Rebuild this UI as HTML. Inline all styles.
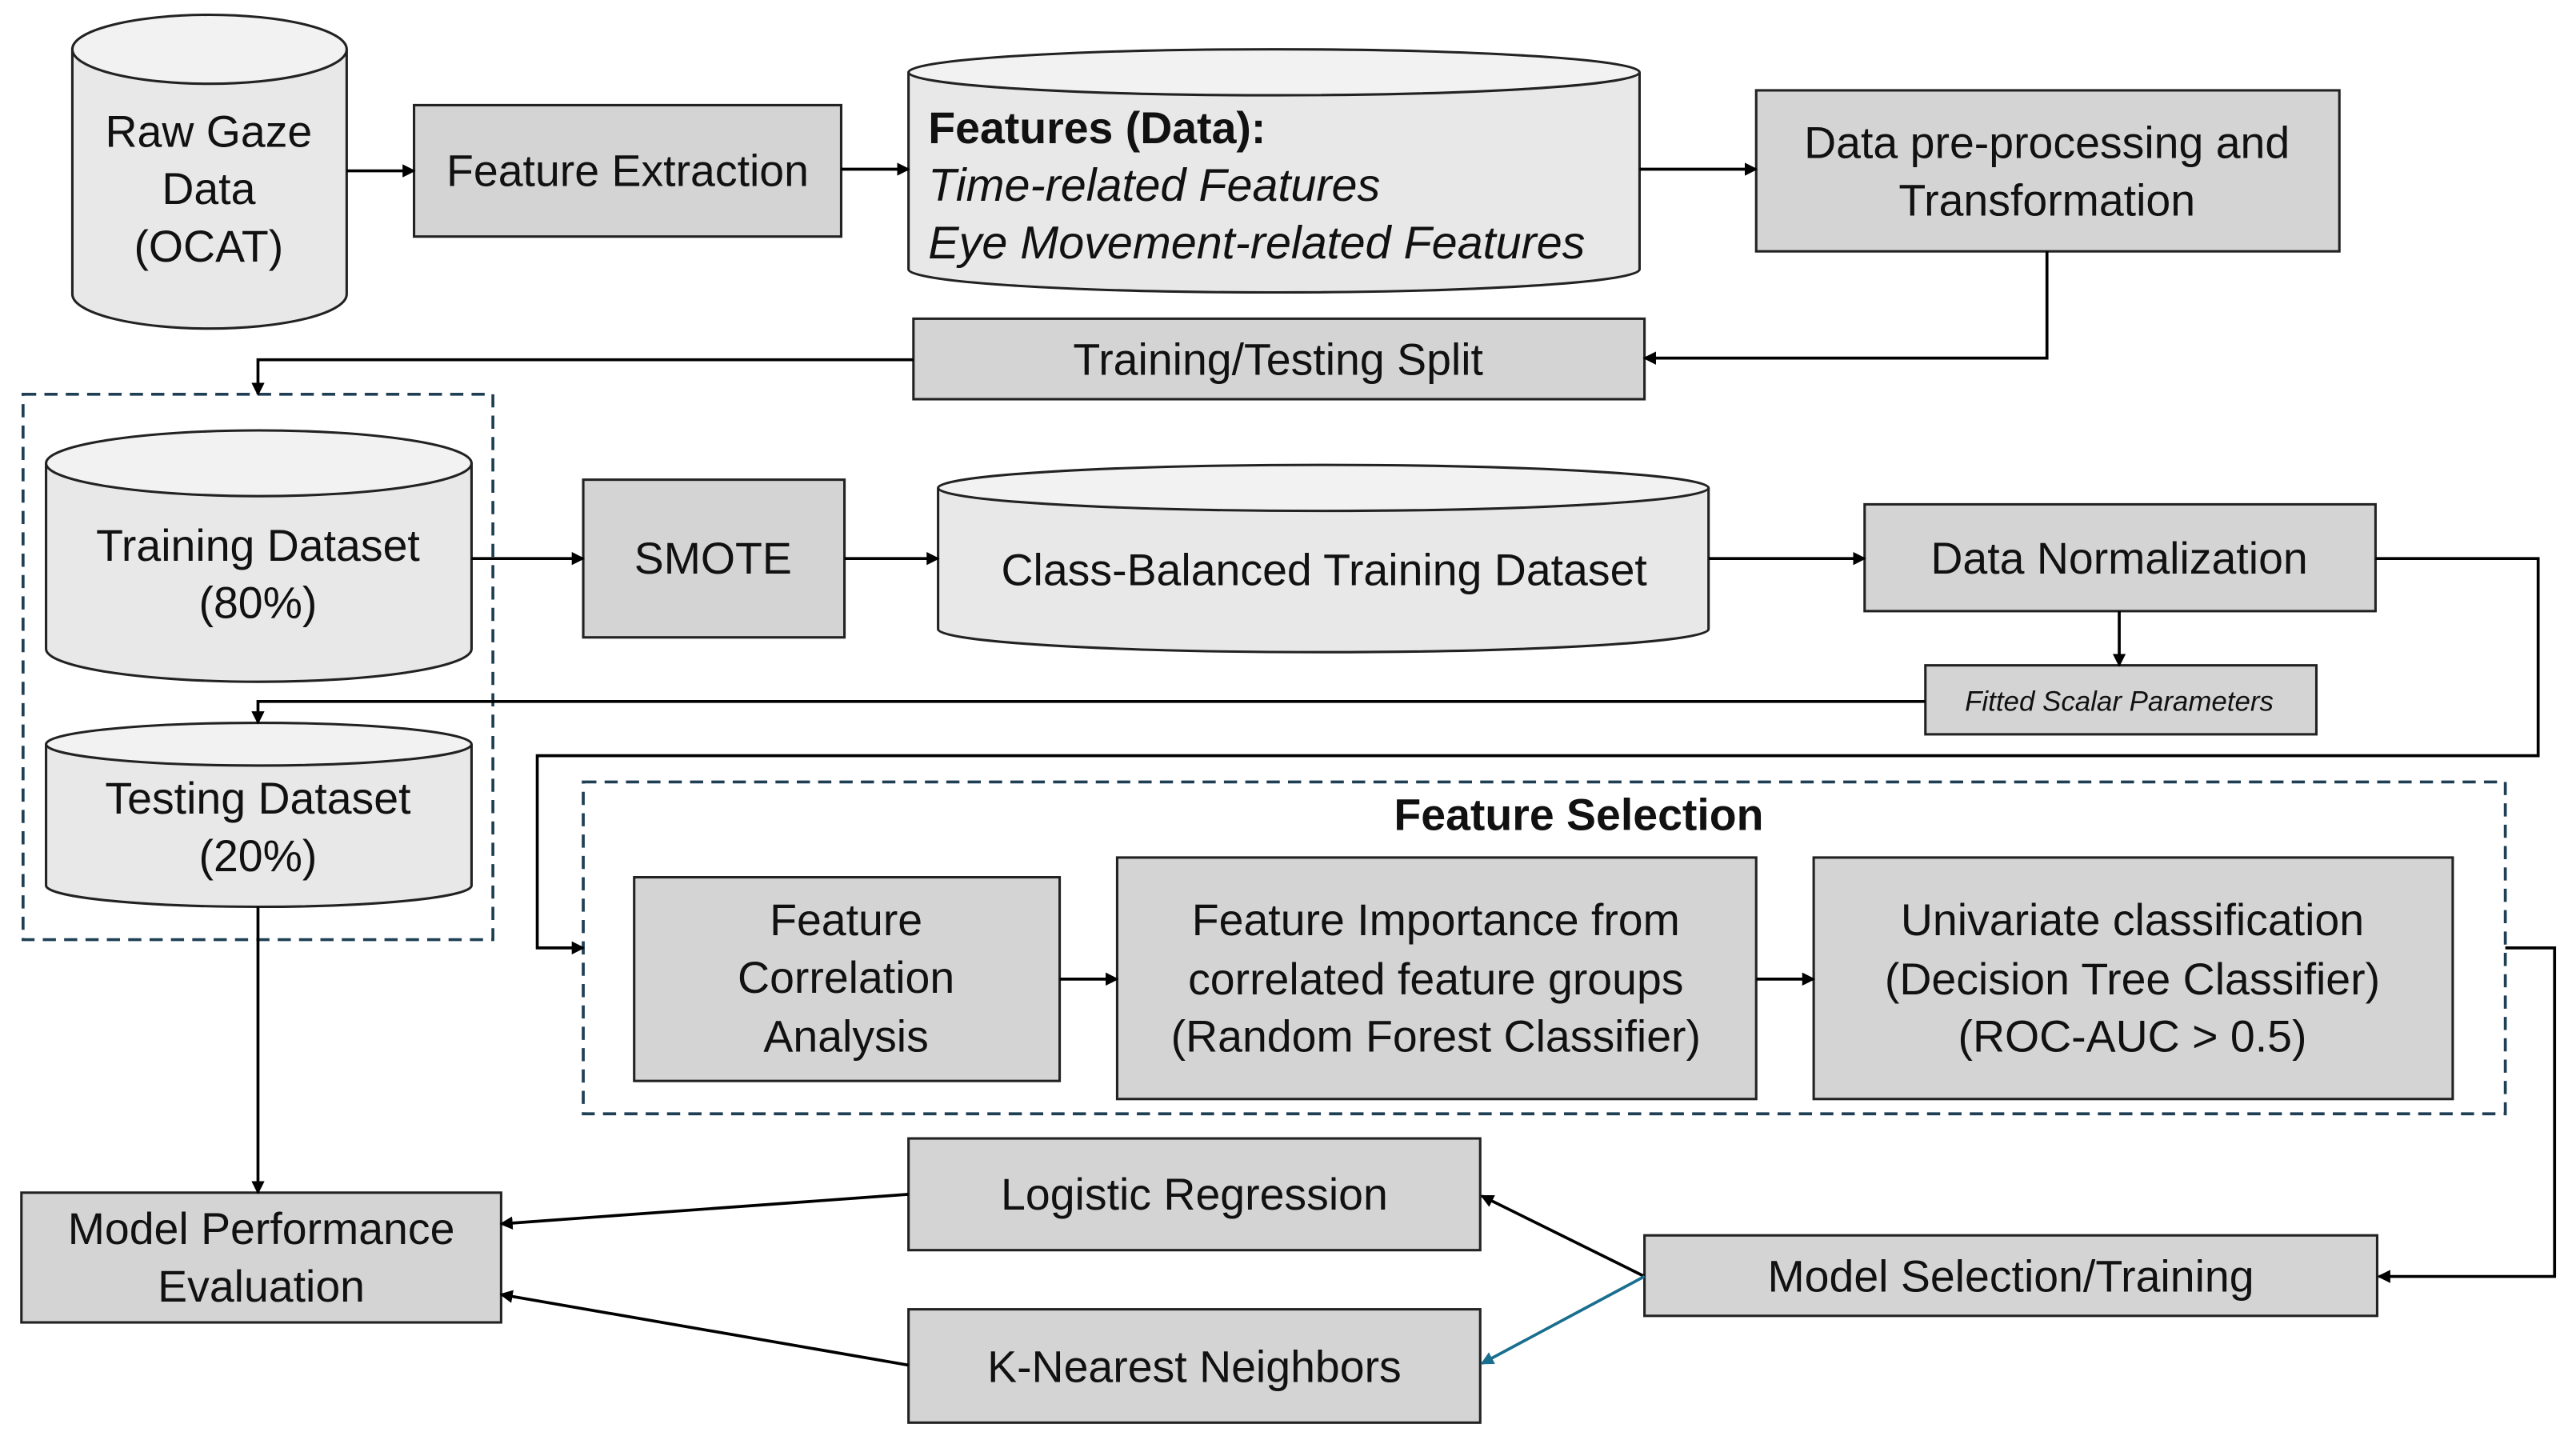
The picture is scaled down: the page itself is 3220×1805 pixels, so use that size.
<!DOCTYPE html>
<html><head><meta charset="utf-8"><style>html,body{margin:0;padding:0;background:#fff}svg{display:block}</style></head>
<body>
<svg width="3220" height="1805" viewBox="0 0 1568 879" xmlns="http://www.w3.org/2000/svg" font-family="Liberation Sans, sans-serif">
<defs>
<marker id="a" markerWidth="8" markerHeight="8" refX="7" refY="4" orient="auto" markerUnits="userSpaceOnUse"><path d="M0,0 L8,4 L0,8 z" fill="#000"/></marker>
<marker id="b" markerWidth="8" markerHeight="8" refX="7" refY="4" orient="auto" markerUnits="userSpaceOnUse"><path d="M0,0 L8,4 L0,8 z" fill="#1a6e8e"/></marker>
</defs>
<g stroke="#222" stroke-width="1.5">
<path d="M44,30 V179 A83.5,21 0 0 0 211,179 V30" fill="#e8e8e8"/>
<ellipse cx="127.5" cy="30" rx="83.5" ry="21" fill="#f2f2f2"/>
<path d="M553,44 V164 A222.5,14 0 0 0 998,164 V44" fill="#e8e8e8"/>
<ellipse cx="775.5" cy="44" rx="222.5" ry="14" fill="#f2f2f2"/>
<path d="M28,282 V395 A129.5,20 0 0 0 287,395 V282" fill="#e8e8e8"/>
<ellipse cx="157.5" cy="282" rx="129.5" ry="20" fill="#f2f2f2"/>
<path d="M571,297 V383 A234.5,14 0 0 0 1040,383 V297" fill="#e8e8e8"/>
<ellipse cx="805.5" cy="297" rx="234.5" ry="14" fill="#f2f2f2"/>
<path d="M28,453 V539 A129.5,13 0 0 0 287,539 V453" fill="#e8e8e8"/>
<ellipse cx="157.5" cy="453" rx="129.5" ry="13" fill="#f2f2f2"/>
<g fill="#d4d4d4">
<rect x="252" y="64" width="260" height="80"/>
<rect x="1069" y="55" width="355" height="98"/>
<rect x="556" y="194" width="445" height="49"/>
<rect x="355" y="292" width="159" height="96"/>
<rect x="1135" y="307" width="311" height="65"/>
<rect x="1172" y="405" width="238" height="42"/>
<rect x="386" y="534" width="259" height="124"/>
<rect x="680" y="522" width="389" height="147"/>
<rect x="1104" y="522" width="389" height="147"/>
<rect x="1001" y="752" width="446" height="49"/>
<rect x="553" y="693" width="348" height="68"/>
<rect x="553" y="797" width="348" height="69"/>
<rect x="13" y="726" width="292" height="79"/>
</g>
</g>
<g fill="none" stroke="#1f3f55" stroke-width="1.8" stroke-dasharray="8,5">
<rect x="14" y="240" width="286" height="332"/>
<rect x="355" y="476" width="1170" height="202"/>
</g>
<g fill="none" stroke="#000" stroke-width="1.8" marker-end="url(#a)">
<path d="M211,104 H252"/>
<path d="M512,103 H553"/>
<path d="M998,103 H1069"/>
<path d="M1246,153 V218 H1001"/>
<path d="M556,219 H157 V240"/>
<path d="M287,340 H355"/>
<path d="M514,340 H571"/>
<path d="M1040,340 H1135"/>
<path d="M1290,372 V405"/>
<path d="M1172,427 H157 V440"/>
<path d="M1446,340 H1545 V460 H327 V577 H355"/>
<path d="M645,596 H680"/>
<path d="M1069,596 H1104"/>
<path d="M1525,577 H1555 V777 H1448"/>
<path d="M1001,777 L902,728"/>
<path d="M553,727 L305,745"/>
<path d="M553,831 L305,788"/>
<path d="M157,552 V726"/>
</g>
<path d="M1001,777 L902,830" fill="none" stroke="#1a6e8e" stroke-width="1.8" marker-end="url(#b)"/>
<g font-size="27" fill="#111" text-anchor="middle" dominant-baseline="central">
<text x="127" y="80">Raw Gaze</text><text x="127" y="115">Data</text><text x="127" y="150">(OCAT)</text>
<text x="382" y="104">Feature Extraction</text>
<g text-anchor="start"><text x="565" y="78" font-weight="bold">Features (Data):</text>
<text x="565" y="113" font-style="italic" font-size="28">Time-related Features</text>
<text x="565" y="148" font-style="italic" font-size="28">Eye Movement-related Features</text></g>
<text x="1246" y="87">Data pre-processing and</text><text x="1246" y="122">Transformation</text>
<text x="778" y="219">Training/Testing Split</text>
<text x="157" y="332">Training Dataset</text><text x="157" y="367">(80%)</text>
<text x="434" y="340">SMOTE</text>
<text x="806" y="347">Class-Balanced Training Dataset</text>
<text x="1290" y="340">Data Normalization</text>
<text x="1290" y="427" font-size="17" font-style="italic">Fitted Scalar Parameters</text>
<text x="157" y="486">Testing Dataset</text><text x="157" y="521">(20%)</text>
<text x="961" y="496" font-weight="bold">Feature Selection</text>
<text x="515" y="560">Feature</text><text x="515" y="595">Correlation</text><text x="515" y="631">Analysis</text>
<text x="874" y="560">Feature Importance from</text><text x="874" y="596">correlated feature groups</text><text x="874" y="631">(Random Forest Classifier)</text>
<text x="1298" y="560">Univariate classification</text><text x="1298" y="596">(Decision Tree Classifier)</text><text x="1298" y="631">(ROC-AUC &gt; 0.5)</text>
<text x="1224" y="777">Model Selection/Training</text>
<text x="727" y="727">Logistic Regression</text>
<text x="727" y="832">K-Nearest Neighbors</text>
<text x="159" y="748">Model Performance</text><text x="159" y="783">Evaluation</text>
</g>
</svg>
</body></html>
